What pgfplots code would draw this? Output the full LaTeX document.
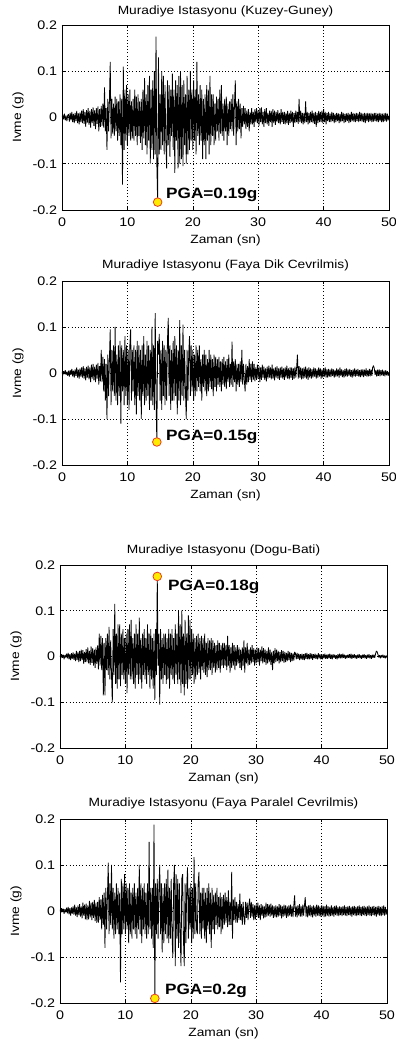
\documentclass[border=0pt]{standalone}
\usepackage{fontspec}
\setmainfont[FakeStretch=1.15]{Liberation Sans}
\usepackage{pgfplots}
\usepackage{pgfplotstable}
\pgfplotsset{compat=1.18}
\definecolor{pgafill}{RGB}{255,235,0}
\definecolor{pgaedge}{RGB}{235,60,30}
% sampled every 0.125 s, 8 values per line = 1 s
\pgfplotstableread[header=false,row sep=\\]{
0.002\\ 0.006\\ -0.004\\ 0.008\\ -0.006\\ 0.004\\ -0.008\\ 0.005\\
0.007\\ -0.009\\ 0.01\\ -0.006\\ 0.012\\ -0.01\\ 0.008\\ -0.012\\
0.01\\ -0.008\\ 0.014\\ -0.012\\ 0.009\\ -0.015\\ 0.011\\ -0.01\\
0.015\\ -0.012\\ 0.018\\ -0.014\\ 0.012\\ -0.02\\ 0.016\\ -0.011\\
0.02\\ -0.016\\ 0.014\\ -0.022\\ 0.018\\ -0.012\\ 0.022\\ -0.018\\
0.016\\ -0.025\\ 0.02\\ -0.014\\ 0.024\\ -0.03\\ 0.018\\ -0.02\\
0.025\\ -0.018\\ 0.03\\ -0.022\\ 0.065\\ -0.03\\ 0.02\\ -0.07\\
0.04\\ -0.03\\ 0.035\\ 0.12\\ -0.045\\ 0.04\\ -0.035\\ 0.03\\
-0.04\\ 0.045\\ -0.03\\ 0.04\\ -0.05\\ 0.035\\ -0.04\\ 0.05\\
-0.06\\ 0.04\\ -0.145\\ 0.11\\ -0.07\\ 0.06\\ -0.05\\ 0.07\\
-0.06\\ 0.05\\ -0.04\\ 0.06\\ -0.05\\ 0.035\\ -0.045\\ 0.04\\
-0.05\\ 0.06\\ -0.04\\ 0.045\\ -0.06\\ 0.05\\ -0.04\\ 0.035\\
-0.055\\ 0.04\\ -0.07\\ 0.06\\ -0.045\\ 0.085\\ -0.06\\ 0.05\\
-0.08\\ 0.07\\ -0.05\\ 0.09\\ -0.1\\ 0.06\\ -0.07\\ 0.08\\
-0.09\\ 0.1\\ -0.08\\ 0.175\\ -0.1\\ -0.183\\ 0.13\\ -0.08\\
0.05\\ -0.07\\ 0.1\\ -0.06\\ 0.09\\ -0.08\\ 0.07\\ -0.05\\
-0.11\\ 0.08\\ -0.06\\ 0.07\\ -0.085\\ 0.06\\ -0.04\\ 0.095\\
-0.07\\ 0.06\\ -0.12\\ 0.08\\ -0.05\\ 0.07\\ -0.11\\ 0.09\\
-0.1\\ 0.1\\ -0.09\\ 0.07\\ -0.105\\ 0.08\\ -0.06\\ 0.05\\
-0.1\\ 0.09\\ -0.08\\ 0.06\\ -0.07\\ 0.1\\ -0.05\\ 0.06\\
-0.07\\ 0.08\\ -0.05\\ 0.06\\ -0.08\\ 0.12\\ -0.04\\ 0.05\\
-0.06\\ 0.07\\ -0.05\\ 0.06\\ -0.09\\ 0.04\\ -0.06\\ 0.05\\
-0.09\\ 0.07\\ -0.05\\ 0.06\\ -0.08\\ 0.09\\ -0.06\\ 0.05\\
-0.04\\ 0.05\\ -0.06\\ 0.03\\ -0.05\\ 0.045\\ -0.03\\ 0.04\\
-0.05\\ 0.06\\ -0.035\\ 0.07\\ -0.04\\ 0.03\\ -0.05\\ 0.04\\
-0.03\\ 0.045\\ -0.06\\ 0.03\\ -0.04\\ 0.035\\ -0.025\\ 0.04\\
-0.03\\ 0.05\\ -0.04\\ 0.03\\ 0.08\\ -0.06\\ 0.035\\ -0.03\\
0.04\\ -0.025\\ 0.03\\ -0.045\\ 0.02\\ -0.02\\ 0.025\\ -0.015\\
0.02\\ -0.025\\ 0.015\\ -0.02\\ 0.018\\ -0.03\\ 0.012\\ -0.015\\
0.02\\ -0.015\\ 0.012\\ -0.02\\ 0.018\\ -0.01\\ 0.02\\ -0.012\\
0.015\\ -0.018\\ 0.02\\ -0.01\\ 0.022\\ -0.015\\ 0.012\\ -0.02\\
0.018\\ -0.012\\ 0.02\\ -0.015\\ 0.01\\ -0.018\\ 0.015\\ -0.01\\
0.014\\ -0.02\\ 0.018\\ -0.012\\ 0.015\\ -0.016\\ 0.012\\ -0.01\\
0.016\\ -0.012\\ 0.01\\ -0.015\\ 0.018\\ -0.01\\ 0.012\\ -0.014\\
0.012\\ -0.015\\ 0.01\\ -0.012\\ 0.014\\ -0.016\\ 0.01\\ -0.012\\
0.015\\ -0.01\\ 0.012\\ -0.02\\ 0.01\\ -0.012\\ 0.015\\ -0.01\\
0.012\\ -0.014\\ 0.04\\ -0.01\\ 0.015\\ -0.012\\ 0.01\\ -0.015\\
0.01\\ -0.012\\ 0.035\\ -0.01\\ 0.012\\ -0.015\\ 0.01\\ -0.012\\
0.012\\ -0.01\\ 0.015\\ -0.012\\ 0.01\\ -0.014\\ 0.012\\ -0.02\\
0.01\\ -0.012\\ 0.014\\ -0.01\\ 0.012\\ -0.01\\ 0.015\\ -0.012\\
0.018\\ -0.01\\ 0.012\\ -0.015\\ 0.01\\ -0.008\\ 0.012\\ -0.01\\
0.008\\ -0.01\\ 0.012\\ -0.008\\ 0.01\\ -0.012\\ 0.008\\ -0.01\\
0.01\\ -0.008\\ 0.009\\ -0.012\\ 0.008\\ -0.01\\ 0.012\\ -0.008\\
0.01\\ -0.012\\ 0.008\\ -0.01\\ 0.009\\ -0.008\\ 0.01\\ -0.012\\
0.008\\ -0.01\\ 0.012\\ -0.008\\ 0.01\\ -0.009\\ 0.008\\ -0.01\\
0.01\\ -0.008\\ 0.009\\ -0.01\\ 0.012\\ -0.008\\ 0.01\\ -0.009\\
0.008\\ -0.01\\ 0.01\\ -0.012\\ 0.009\\ -0.008\\ 0.01\\ -0.01\\
0.009\\ -0.008\\ 0.01\\ -0.01\\ 0.008\\ -0.009\\ 0.01\\ -0.008\\
0.01\\ -0.009\\ 0.008\\ -0.01\\ 0.01\\ -0.008\\ 0.009\\ -0.01\\
0.008\\ -0.01\\ 0.009\\ -0.008\\ 0.01\\ -0.009\\ 0.008\\ -0.006\\
0.004\\
}\tKG
\pgfplotstableread[header=false,row sep=\\]{
0.003\\ -0.005\\ 0.004\\ -0.002\\ 0.006\\ -0.004\\ 0.003\\ -0.006\\
0.005\\ -0.008\\ 0.006\\ -0.004\\ 0.009\\ -0.007\\ 0.005\\ -0.01\\
0.008\\ -0.006\\ 0.012\\ -0.01\\ 0.007\\ -0.012\\ 0.01\\ -0.008\\
0.012\\ -0.01\\ 0.015\\ -0.012\\ 0.01\\ -0.016\\ 0.013\\ -0.01\\
0.016\\ -0.014\\ 0.012\\ -0.02\\ 0.018\\ -0.012\\ 0.02\\ -0.016\\
0.014\\ -0.02\\ 0.018\\ -0.012\\ 0.022\\ -0.025\\ 0.015\\ -0.018\\
0.05\\ -0.02\\ 0.035\\ -0.04\\ 0.03\\ -0.06\\ 0.02\\ -0.1\\
0.04\\ -0.05\\ 0.03\\ 0.095\\ -0.07\\ 0.05\\ -0.04\\ 0.06\\
-0.05\\ 0.1\\ -0.06\\ 0.04\\ -0.07\\ 0.06\\ -0.05\\ 0.07\\
-0.11\\ 0.06\\ -0.04\\ 0.05\\ -0.07\\ 0.08\\ -0.05\\ 0.06\\
-0.07\\ 0.05\\ -0.08\\ 0.06\\ 0.095\\ -0.06\\ 0.05\\ -0.04\\
0.06\\ -0.07\\ 0.05\\ -0.09\\ 0.07\\ -0.05\\ 0.06\\ -0.06\\
0.05\\ -0.1\\ 0.06\\ -0.05\\ 0.08\\ -0.07\\ 0.04\\ -0.06\\
0.07\\ -0.05\\ 0.06\\ -0.08\\ 0.05\\ -0.06\\ 0.1\\ -0.07\\
0.06\\ -0.08\\ 0.13\\ -0.05\\ -0.15\\ 0.07\\ 0.04\\ 0.085\\
-0.06\\ 0.05\\ -0.08\\ 0.07\\ -0.05\\ 0.06\\ -0.07\\ 0.05\\
-0.06\\ 0.07\\ 0.12\\ -0.05\\ 0.06\\ -0.08\\ 0.05\\ -0.06\\
0.07\\ -0.06\\ 0.08\\ -0.05\\ 0.06\\ -0.09\\ 0.05\\ -0.06\\
0.115\\ -0.07\\ 0.06\\ -0.05\\ 0.105\\ -0.06\\ 0.05\\ -0.04\\
-0.1\\ 0.05\\ -0.06\\ 0.04\\ 0.08\\ -0.05\\ 0.06\\ -0.04\\
0.05\\ -0.06\\ 0.04\\ -0.05\\ 0.06\\ -0.04\\ 0.05\\ -0.03\\
0.06\\ -0.04\\ 0.03\\ -0.06\\ 0.04\\ -0.03\\ 0.05\\ -0.04\\
0.04\\ -0.05\\ 0.03\\ -0.04\\ 0.05\\ -0.03\\ 0.04\\ -0.035\\
0.03\\ -0.05\\ 0.04\\ -0.03\\ 0.035\\ -0.04\\ 0.03\\ -0.025\\
0.035\\ -0.03\\ 0.025\\ -0.04\\ 0.03\\ -0.025\\ 0.035\\ -0.03\\
0.025\\ -0.035\\ 0.03\\ -0.02\\ 0.04\\ -0.03\\ 0.02\\ -0.025\\
0.068\\ -0.03\\ 0.025\\ -0.02\\ 0.03\\ -0.04\\ 0.02\\ -0.025\\
0.02\\ -0.03\\ 0.025\\ -0.02\\ 0.05\\ -0.025\\ 0.02\\ -0.015\\
-0.04\\ 0.02\\ -0.025\\ 0.015\\ -0.02\\ 0.03\\ -0.015\\ 0.02\\
-0.02\\ 0.025\\ -0.015\\ 0.02\\ -0.018\\ 0.012\\ -0.015\\ 0.018\\
-0.012\\ 0.015\\ -0.02\\ 0.012\\ -0.015\\ 0.018\\ -0.01\\ 0.014\\
-0.015\\ 0.01\\ -0.018\\ 0.014\\ -0.012\\ 0.016\\ -0.01\\ 0.012\\
-0.014\\ 0.018\\ -0.012\\ 0.01\\ -0.016\\ 0.012\\ -0.01\\ 0.015\\
-0.012\\ 0.01\\ -0.015\\ 0.012\\ -0.01\\ 0.014\\ -0.012\\ 0.01\\
-0.015\\ 0.012\\ -0.01\\ 0.016\\ -0.012\\ 0.01\\ -0.014\\ 0.012\\
-0.01\\ 0.012\\ -0.015\\ 0.01\\ -0.012\\ 0.014\\ -0.01\\ 0.012\\
0.04\\ -0.012\\ 0.015\\ -0.01\\ 0.012\\ -0.014\\ 0.01\\ -0.012\\
0.012\\ -0.01\\ 0.014\\ -0.012\\ 0.01\\ -0.015\\ 0.012\\ -0.01\\
0.01\\ -0.012\\ 0.008\\ -0.01\\ 0.012\\ -0.008\\ 0.01\\ -0.012\\
0.008\\ -0.01\\ 0.012\\ -0.008\\ 0.01\\ -0.012\\ 0.008\\ -0.01\\
0.01\\ -0.008\\ 0.012\\ -0.01\\ 0.008\\ -0.01\\ 0.009\\ -0.008\\
0.007\\ -0.009\\ 0.01\\ -0.006\\ 0.008\\ -0.01\\ 0.006\\ -0.008\\
0.01\\ -0.007\\ 0.008\\ -0.01\\ 0.012\\ -0.006\\ 0.008\\ -0.009\\
0.006\\ -0.01\\ 0.009\\ -0.007\\ 0.01\\ -0.008\\ 0.007\\ -0.006\\
0.009\\ -0.008\\ 0.006\\ -0.01\\ 0.008\\ -0.007\\ 0.01\\ -0.008\\
0.007\\ -0.006\\ 0.009\\ -0.008\\ 0.006\\ -0.009\\ 0.008\\ -0.007\\
0.008\\ -0.009\\ 0.007\\ -0.006\\ 0.01\\ -0.008\\ 0.006\\ -0.007\\
0.009\\ -0.007\\ 0.008\\ -0.006\\ 0.012\\ 0.016\\ 0.01\\ -0.004\\
0.006\\ -0.008\\ 0.007\\ -0.006\\ 0.008\\ -0.007\\ 0.006\\ -0.005\\
0.007\\ -0.006\\ 0.005\\ -0.007\\ 0.006\\ -0.005\\ 0.004\\ -0.006\\
0.002\\
}\tFD
\pgfplotstableread[header=false,row sep=\\]{
0.002\\ -0.004\\ 0.005\\ -0.003\\ 0.004\\ -0.006\\ 0.003\\ -0.002\\
0.006\\ -0.004\\ 0.008\\ -0.006\\ 0.005\\ -0.008\\ 0.007\\ -0.005\\
0.009\\ -0.007\\ 0.006\\ -0.01\\ 0.012\\ -0.008\\ 0.01\\ -0.012\\
0.012\\ -0.01\\ 0.015\\ -0.008\\ 0.014\\ -0.016\\ 0.01\\ -0.012\\
0.016\\ -0.012\\ 0.02\\ -0.015\\ 0.012\\ -0.018\\ 0.022\\ -0.014\\
0.018\\ -0.02\\ 0.015\\ -0.025\\ 0.02\\ -0.016\\ 0.024\\ -0.028\\
0.05\\ -0.02\\ 0.045\\ -0.03\\ 0.04\\ -0.085\\ 0.03\\ -0.085\\
0.04\\ -0.03\\ 0.05\\ -0.04\\ 0.065\\ -0.05\\ 0.035\\ -0.04\\
-0.1\\ 0.06\\ -0.04\\ 0.115\\ -0.06\\ 0.05\\ -0.07\\ 0.07\\
-0.05\\ 0.07\\ -0.065\\ 0.05\\ -0.04\\ 0.06\\ -0.05\\ 0.04\\
-0.06\\ 0.05\\ -0.08\\ 0.06\\ -0.04\\ 0.07\\ -0.05\\ 0.08\\
-0.05\\ 0.04\\ -0.06\\ 0.05\\ -0.07\\ 0.07\\ -0.04\\ 0.05\\
-0.06\\ 0.085\\ -0.05\\ 0.04\\ -0.07\\ 0.05\\ -0.04\\ 0.06\\
-0.05\\ 0.04\\ -0.06\\ 0.07\\ -0.04\\ 0.05\\ -0.07\\ 0.06\\
-0.05\\ 0.04\\ -0.07\\ 0.05\\ -0.095\\ 0.06\\ -0.04\\ 0.175\\
-0.02\\ 0.05\\ -0.105\\ 0.06\\ -0.05\\ 0.04\\ -0.06\\ 0.05\\
-0.04\\ 0.05\\ -0.06\\ 0.04\\ -0.05\\ 0.06\\ -0.07\\ 0.05\\
-0.04\\ 0.06\\ -0.05\\ 0.04\\ -0.06\\ 0.07\\ -0.04\\ 0.05\\
-0.06\\ 0.1\\ -0.05\\ 0.07\\ -0.08\\ 0.1\\ -0.06\\ 0.05\\
-0.085\\ 0.08\\ -0.06\\ 0.05\\ -0.07\\ 0.09\\ -0.05\\ 0.08\\
-0.05\\ 0.06\\ -0.04\\ 0.05\\ -0.06\\ 0.04\\ -0.05\\ 0.045\\
-0.04\\ 0.05\\ -0.035\\ 0.04\\ -0.05\\ 0.045\\ -0.03\\ 0.04\\
-0.035\\ 0.05\\ -0.04\\ 0.03\\ -0.045\\ 0.04\\ -0.03\\ 0.035\\
-0.03\\ 0.04\\ -0.04\\ 0.035\\ -0.025\\ 0.03\\ -0.035\\ 0.025\\
-0.03\\ 0.035\\ -0.025\\ 0.03\\ -0.035\\ 0.025\\ -0.02\\ 0.03\\
-0.025\\ 0.03\\ -0.02\\ 0.025\\ -0.03\\ 0.045\\ -0.02\\ 0.025\\
-0.035\\ 0.02\\ -0.025\\ 0.03\\ -0.02\\ 0.025\\ -0.03\\ 0.02\\
-0.02\\ 0.025\\ -0.015\\ 0.02\\ -0.025\\ 0.015\\ -0.03\\ 0.02\\
-0.02\\ 0.035\\ -0.035\\ 0.02\\ -0.015\\ 0.03\\ -0.02\\ 0.015\\
-0.018\\ 0.02\\ -0.015\\ 0.025\\ -0.012\\ 0.018\\ -0.02\\ 0.015\\
-0.015\\ 0.02\\ -0.012\\ 0.018\\ -0.02\\ 0.015\\ -0.01\\ 0.022\\
-0.015\\ 0.018\\ -0.012\\ 0.015\\ -0.018\\ 0.012\\ -0.015\\ 0.02\\
-0.012\\ 0.015\\ -0.018\\ 0.01\\ -0.03\\ 0.012\\ -0.015\\ 0.018\\
-0.012\\ 0.015\\ -0.01\\ 0.012\\ -0.015\\ 0.01\\ -0.012\\ 0.014\\
-0.01\\ 0.012\\ -0.014\\ 0.01\\ -0.012\\ 0.008\\ -0.01\\ 0.012\\
-0.008\\ 0.01\\ -0.012\\ 0.008\\ -0.01\\ 0.007\\ -0.009\\ 0.01\\
0.007\\ -0.006\\ 0.008\\ -0.005\\ 0.006\\ -0.008\\ 0.005\\ -0.006\\
0.006\\ -0.007\\ 0.005\\ -0.008\\ 0.007\\ -0.005\\ 0.008\\ -0.006\\
0.005\\ -0.006\\ 0.007\\ -0.005\\ 0.006\\ -0.007\\ 0.005\\ -0.004\\
0.006\\ -0.005\\ 0.004\\ -0.006\\ 0.007\\ -0.004\\ 0.005\\ -0.006\\
0.004\\ -0.006\\ 0.005\\ -0.004\\ 0.006\\ -0.005\\ 0.004\\ -0.005\\
0.005\\ -0.004\\ 0.006\\ -0.005\\ 0.004\\ -0.006\\ 0.005\\ -0.003\\
0.004\\ -0.005\\ 0.003\\ -0.006\\ 0.005\\ -0.004\\ 0.006\\ -0.004\\
0.005\\ -0.004\\ 0.006\\ -0.003\\ 0.004\\ -0.005\\ 0.003\\ -0.004\\
0.004\\ -0.003\\ 0.005\\ -0.004\\ 0.006\\ -0.005\\ 0.004\\ -0.003\\
0.005\\ -0.004\\ 0.003\\ -0.005\\ 0.004\\ -0.003\\ 0.005\\ -0.004\\
0.003\\ -0.005\\ 0.004\\ -0.003\\ 0.005\\ -0.004\\ 0.003\\ -0.005\\
0.004\\ -0.003\\ 0.005\\ -0.004\\ 0.003\\ -0.005\\ 0.004\\ -0.003\\
0.004\\ -0.003\\ 0.006\\ 0.012\\ 0.01\\ 0.004\\ -0.002\\ 0.003\\
-0.004\\ 0.003\\ -0.002\\ 0.004\\ -0.003\\ 0.002\\ -0.004\\ 0.002\\
-0.002\\
}\tDB
\pgfplotstableread[header=false,row sep=\\]{
0.003\\ -0.004\\ 0.006\\ -0.002\\ 0.005\\ -0.006\\ 0.004\\ -0.003\\
0.007\\ -0.005\\ 0.009\\ -0.007\\ 0.006\\ -0.01\\ 0.008\\ -0.006\\
0.01\\ -0.008\\ 0.014\\ -0.01\\ 0.008\\ -0.013\\ 0.012\\ -0.009\\
0.015\\ -0.012\\ 0.01\\ -0.016\\ 0.018\\ -0.01\\ 0.014\\ -0.018\\
0.016\\ -0.02\\ 0.012\\ -0.018\\ 0.022\\ -0.014\\ 0.018\\ -0.02\\
0.02\\ -0.015\\ 0.024\\ -0.022\\ 0.018\\ -0.026\\ 0.02\\ -0.025\\
0.03\\ -0.02\\ 0.025\\ -0.04\\ 0.035\\ -0.03\\ 0.04\\ -0.08\\
0.05\\ -0.04\\ 0.03\\ 0.105\\ -0.05\\ 0.06\\ -0.03\\ 0.1\\
-0.04\\ 0.05\\ -0.06\\ 0.04\\ -0.05\\ 0.06\\ -0.04\\ 0.05\\
-0.05\\ 0.04\\ -0.155\\ 0.07\\ -0.05\\ 0.06\\ -0.04\\ 0.08\\
-0.05\\ 0.06\\ -0.04\\ 0.05\\ -0.07\\ 0.06\\ -0.05\\ 0.04\\
-0.06\\ 0.05\\ -0.04\\ 0.06\\ -0.05\\ 0.04\\ -0.06\\ 0.05\\
-0.04\\ 0.1\\ -0.05\\ 0.06\\ -0.07\\ 0.05\\ -0.04\\ 0.06\\
-0.05\\ 0.04\\ -0.06\\ 0.06\\ -0.05\\ 0.15\\ -0.04\\ 0.05\\
-0.06\\ 0.05\\ -0.08\\ 0.188\\ -0.19\\ 0.06\\ -0.05\\ 0.07\\
-0.06\\ 0.05\\ 0.1\\ -0.05\\ 0.06\\ -0.09\\ 0.05\\ -0.07\\
0.06\\ -0.05\\ 0.07\\ -0.06\\ 0.09\\ -0.07\\ 0.05\\ -0.06\\
0.07\\ -0.05\\ -0.1\\ 0.06\\ 0.1\\ -0.12\\ 0.08\\ -0.06\\
0.07\\ -0.08\\ 0.06\\ -0.05\\ -0.12\\ 0.07\\ 0.08\\ -0.06\\
-0.12\\ 0.06\\ -0.07\\ 0.05\\ 0.095\\ -0.06\\ 0.05\\ -0.04\\
0.06\\ -0.07\\ 0.05\\ -0.06\\ 0.117\\ -0.05\\ 0.06\\ -0.04\\
-0.05\\ 0.06\\ 0.085\\ -0.05\\ 0.04\\ -0.06\\ 0.05\\ -0.04\\
0.05\\ -0.06\\ 0.04\\ -0.07\\ 0.05\\ -0.04\\ 0.06\\ -0.05\\
0.04\\ -0.08\\ 0.05\\ -0.04\\ 0.035\\ -0.05\\ 0.04\\ -0.03\\
0.05\\ -0.04\\ 0.03\\ -0.035\\ 0.04\\ -0.05\\ 0.03\\ -0.04\\
0.035\\ -0.03\\ 0.04\\ -0.025\\ 0.03\\ -0.035\\ 0.045\\ -0.03\\
0.02\\ -0.03\\ 0.085\\ -0.06\\ 0.025\\ -0.02\\ 0.03\\ -0.025\\
0.02\\ -0.025\\ 0.015\\ -0.02\\ 0.038\\ -0.02\\ 0.015\\ -0.03\\
0.02\\ -0.015\\ -0.03\\ 0.02\\ -0.015\\ 0.018\\ -0.02\\ 0.012\\
0.027\\ -0.015\\ 0.02\\ -0.012\\ 0.015\\ -0.02\\ 0.012\\ -0.018\\
0.015\\ -0.012\\ 0.018\\ -0.015\\ 0.012\\ -0.02\\ 0.015\\ -0.01\\
0.012\\ -0.016\\ 0.01\\ -0.014\\ 0.018\\ -0.012\\ 0.015\\ -0.01\\
0.014\\ -0.012\\ 0.016\\ -0.01\\ 0.012\\ -0.015\\ 0.01\\ -0.013\\
0.012\\ -0.014\\ 0.01\\ -0.012\\ 0.015\\ -0.01\\ 0.013\\ -0.016\\
0.01\\ -0.012\\ 0.014\\ -0.01\\ 0.012\\ -0.015\\ 0.01\\ -0.012\\
0.012\\ -0.01\\ 0.014\\ -0.012\\ 0.01\\ -0.013\\ 0.012\\ 0.034\\
-0.012\\ 0.01\\ -0.014\\ 0.012\\ -0.01\\ 0.015\\ -0.012\\ 0.01\\
-0.012\\ 0.014\\ -0.01\\ 0.012\\ 0.03\\ -0.012\\ 0.01\\ -0.014\\
0.012\\ -0.01\\ 0.013\\ -0.012\\ 0.01\\ -0.014\\ 0.012\\ -0.01\\
0.01\\ -0.012\\ 0.014\\ -0.01\\ 0.012\\ -0.011\\ 0.01\\ -0.012\\
0.012\\ -0.01\\ 0.011\\ -0.013\\ 0.01\\ -0.012\\ 0.014\\ -0.01\\
0.01\\ -0.012\\ 0.009\\ -0.011\\ 0.012\\ -0.01\\ 0.009\\ -0.012\\
0.011\\ -0.009\\ 0.012\\ -0.01\\ 0.009\\ -0.011\\ 0.01\\ -0.009\\
0.009\\ -0.011\\ 0.01\\ -0.009\\ 0.012\\ -0.01\\ 0.009\\ -0.011\\
0.01\\ -0.009\\ 0.011\\ -0.01\\ 0.009\\ -0.012\\ 0.01\\ -0.009\\
0.011\\ -0.01\\ 0.009\\ -0.011\\ 0.01\\ -0.009\\ 0.012\\ -0.01\\
0.009\\ -0.011\\ 0.01\\ -0.009\\ 0.011\\ -0.01\\ 0.009\\ -0.011\\
0.01\\ -0.009\\ 0.012\\ -0.01\\ 0.009\\ -0.011\\ 0.01\\ -0.009\\
0.011\\ -0.01\\ 0.009\\ -0.012\\ 0.01\\ -0.009\\ 0.011\\ -0.01\\
0.009\\ -0.011\\ 0.01\\ -0.009\\ 0.012\\ -0.01\\ 0.009\\ -0.008\\
0.004\\
}\tFP
\pgfplotsset{
  seis/.style={
    scale only axis, width=327bp, anchor=south west,
    xmin=0, xmax=50, ymin=-0.2, ymax=0.2,
    xtick={0,10,20,30,40,50}, xticklabels={0,10,20,30,40,50},
    ytick={-0.2,-0.1,0,0.1,0.2}, yticklabels={-0.2,-0.1,0,0.1,0.2},
    tick align=inside, tick pos=both, major tick length=3bp,
    grid=major,
    grid style={black, line width=0.5bp, dash pattern=on 0.8bp off 2.4bp},
    axis line style={black, line width=0.6bp},
    every tick/.style={black, line width=0.6bp},
    tick label style={font=\fontsize{12.5}{14}\selectfont},
    xticklabel style={anchor=center, yshift=-12.5bp},
    yticklabel style={xshift=-1.3bp},
    label style={font=\fontsize{12}{14}\selectfont},
    every axis title/.style={at={(0.5,1)}, anchor=center,
      font=\fontsize{12}{14}\selectfont},
    xlabel={Zaman (sn)}, ylabel={Ivme (g)},
    xlabel style={at={(axis description cs:0.5,-0.165)}, anchor=center},
    ylabel style={at={(axis description cs:-0.1345,0.5)}, anchor=center},
  },
  sig/.style={black, line width=0.8bp, line join=bevel},
  pga/.style={only marks, mark=*, mark size=4.3bp,
    mark options={fill=pgafill, draw=pgaedge, line width=0.8bp}},
}
\newcommand{\pgafont}{\fontsize{15}{18}\selectfont\bfseries}
\begin{document}
\begin{tikzpicture}
\useasboundingbox (0,0) rectangle (396bp,1048bp);
% Panel 1
\begin{axis}[seis, at={(62bp,838bp)}, height=185bp,
  title={Muradiye Istasyonu (Kuzey-Guney)},
  title style={at={(axis description cs:0.5,1.073)}}]
\addplot[sig] table[x expr=\coordindex*0.125, y index=0] {\tKG};
\addplot[pga] coordinates {(14.625,-0.183)};
\node[anchor=west, inner sep=0pt, font=\pgafont] at (axis cs:15.9,-0.167) {PGA=0.19g};
\end{axis}
% Panel 2
\begin{axis}[seis, at={(62bp,583bp)}, height=184bp,
  title={Muradiye Istasyonu (Faya Dik Cevrilmis)},
  title style={at={(axis description cs:0.5,1.083)}}]
\addplot[sig] table[x expr=\coordindex*0.125, y index=0] {\tFD};
\addplot[pga] coordinates {(14.5,-0.15)};
\node[anchor=west, inner sep=0pt, font=\pgafont] at (axis cs:15.9,-0.139) {PGA=0.15g};
\end{axis}
% Panel 3
\begin{axis}[seis, at={(60bp,300bp)}, height=183bp,
  title={Muradiye Istasyonu (Dogu-Bati)},
  title style={at={(axis description cs:0.5,1.082)}}]
\addplot[sig] table[x expr=\coordindex*0.125, y index=0] {\tDB};
\addplot[pga] coordinates {(14.875,0.175)};
\node[anchor=west, inner sep=0pt, font=\pgafont] at (axis cs:16.5,0.153) {PGA=0.18g};
\end{axis}
% Panel 4
\begin{axis}[seis, at={(60bp,45bp)}, height=184bp,
  title={Muradiye Istasyonu (Faya Paralel Cevrilmis)},
  title style={at={(axis description cs:0.5,1.083)}}]
\addplot[sig] table[x expr=\coordindex*0.125, y index=0] {\tFP};
\addplot[pga] coordinates {(14.5,-0.19)};
\node[anchor=west, inner sep=0pt, font=\pgafont] at (axis cs:16.05,-0.174) {PGA=0.2g};
\end{axis}
\end{tikzpicture}
\end{document}
